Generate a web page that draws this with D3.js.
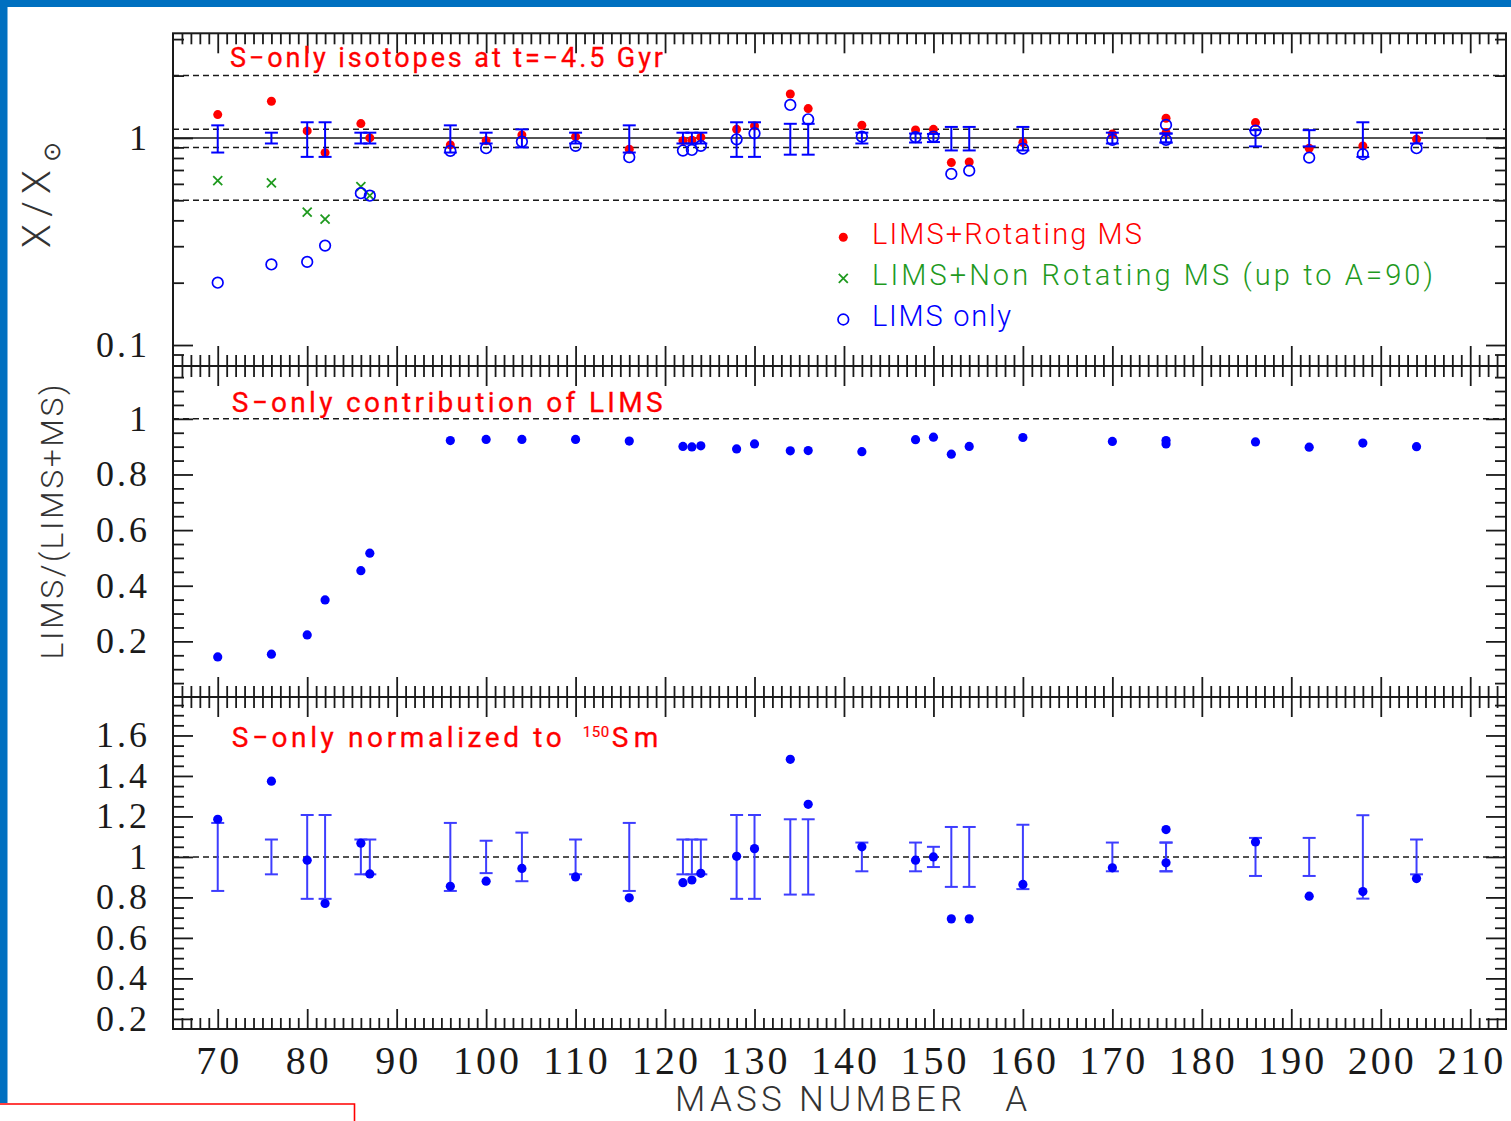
<!DOCTYPE html>
<html>
<head>
<meta charset="utf-8">
<script src="https://cdn.jsdelivr.net/npm/d3@7"></script>
<style>
  html, body { margin: 0; padding: 0; background: #fff; }
  svg { display: block; }
</style>
</head>
<body>
<svg id="chart" width="1511" height="1121"></svg>
<script>
// s-only isotopes (mass number A)
const massNumbers = [70, 76, 80, 82, 86, 87, 96, 100, 104, 110, 116, 122, 123, 124, 128, 130,
  134, 136, 142, 148, 150, 152, 154, 160, 170, 176, 176, 186, 192, 198, 204];

// X/Xsun at t = -4.5 Gyr, LIMS + rotating massive stars
const rotatingMS = [1.296, 1.504, 1.081, 0.849, 1.173, 1.0, 0.925, 0.97, 1.034, 1.015, 0.882,
  0.97, 0.975, 1.008, 1.10, 1.143, 1.63, 1.386, 1.151, 1.093, 1.10, 0.76, 0.765, 0.95, 1.045,
  1.245, 1.061, 1.186, 0.892, 0.915, 0.985];

// X/Xsun, LIMS only
const limsOnly = [0.2, 0.245, 0.252, 0.302, 0.541, 0.526, 0.866, 0.892, 0.96, 0.915, 0.807,
  0.869, 0.875, 0.915, 0.985, 1.053, 1.443, 1.23, 1.015, 1.008, 1.015, 0.67, 0.695, 0.888, 0.978,
  1.155, 0.978, 1.085, 0.803, 0.834, 0.892];

// X/Xsun, LIMS + non rotating massive stars (up to A = 90)
const nonRotMass = [70, 76, 80, 82, 86, 87];
const nonRotatingMS = [0.622, 0.606, 0.438, 0.405, 0.582, 0.526];

// relative solar abundance uncertainty (top panel)
const solarErr = [0.15, 0.06, 0.19, 0.19, 0.06, 0.06, 0.15, 0.06, 0.10, 0.06, 0.15, 0.06, 0.06,
  0.06, 0.19, 0.19, 0.17, 0.17, 0.06, 0.05, 0.045, 0.13, 0.13, 0.13, 0.06, 0.05, 0.05, 0.09,
  0.09, 0.19, 0.06];

// LIMS / (LIMS + MS) contribution
const limsFraction = [0.144, 0.154, 0.223, 0.349, 0.454, 0.517, 0.922, 0.926, 0.926, 0.926,
  0.92, 0.901, 0.899, 0.903, 0.892, 0.910, 0.885, 0.886, 0.882, 0.925, 0.934, 0.873, 0.901,
  0.933, 0.919, 0.922, 0.910, 0.917, 0.898, 0.913, 0.900];

// abundances normalized to 150Sm
const normalizedSm = [1.186, 1.374, 0.984, 0.770, 1.068, 0.916, 0.855, 0.880, 0.943, 0.901,
  0.798, 0.873, 0.886, 0.919, 1.003, 1.041, 1.482, 1.260, 1.05, 0.984, 1.0, 0.694, 0.694, 0.864,
  0.946, 1.135, 0.971, 1.074, 0.806, 0.829, 0.893];

// uncertainty of the normalized abundances (bottom panel)
const normErr = [0.168, 0.086, 0.207, 0.207, 0.086, 0.086, 0.168, 0.08, 0.12, 0.086, 0.168,
  0.086, 0.086, 0.086, 0.207, 0.207, 0.186, 0.186, 0.071, 0.071, 0.05, 0.148, 0.148, 0.159,
  0.071, 0.071, 0.071, 0.094, 0.094, 0.206, 0.086];

// tick values
const xTickLabels = [70, 80, 90, 100, 110, 120, 130, 140, 150, 160, 170, 180, 190, 200, 210];
const topTickLabels = [0.1, 1];
const midTickLabels = [0.2, 0.4, 0.6, 0.8, 1];
const botTickLabels = [0.2, 0.4, 0.6, 0.8, 1, 1.2, 1.4, 1.6];
const topGuides = [2, 1.1, 0.9, 0.5];

const svg = d3.select("#chart");
const RED = "#ff0000", BLUE = "#0000ff", GREEN = "#1f9a1f", INK = "#1a1a1a";
const serif = "'Liberation Serif', 'DejaVu Serif', serif";
const sans = "Roboto, 'Liberation Sans', 'DejaVu Sans', sans-serif";

// page decoration
svg.append("rect").attr("x", 0).attr("y", 0).attr("width", 1511).attr("height", 7).attr("fill", "#0070c0");
svg.append("rect").attr("x", 0).attr("y", 0).attr("width", 7.5).attr("height", 1103).attr("fill", "#0070c0");
svg.append("path").attr("d", "M0,1104 H354.5 V1121").attr("fill", "none").attr("stroke", "#ff0000").attr("stroke-width", 1.6);

const left = 173, right = 1506;
const x = d3.scaleLinear().domain([65, 214]).range([left, right]);

const p1 = { top: 33.3, bottom: 366 };
const p2 = { top: 366, bottom: 697 };
const p3 = { top: 697, bottom: 1029 };

const y1 = d3.scaleLog().domain([0.0792, 3.2]).range([p1.bottom, p1.top]);
const y2 = d3.scaleLinear().domain([0, 1.19]).range([p2.bottom, p2.top]);
const y3 = d3.scaleLinear().domain([0.15, 1.79]).range([p3.bottom, p3.top]);

const majorX = d3.range(70, 211, 10);
const minorX = d3.range(66, 214).filter(v => v % 10 !== 0);

function styleAxis(g) {
  g.select(".domain").remove();
  g.selectAll("line").attr("stroke", INK).attr("stroke-width", 1.8);
  g.selectAll("text").remove();
}

function drawFrame(p, yScale, majorY, minorY) {
  const g = svg.append("g");
  const add = (axis, tx, ty) => g.append("g").attr("transform", `translate(${tx},${ty})`).call(axis).call(styleAxis);
  // x ticks on top and bottom edges, pointing inward
  add(d3.axisBottom(x).tickValues(majorX).tickSize(20), 0, p.top);
  add(d3.axisBottom(x).tickValues(minorX).tickSize(11), 0, p.top);
  add(d3.axisTop(x).tickValues(majorX).tickSize(20), 0, p.bottom);
  add(d3.axisTop(x).tickValues(minorX).tickSize(11), 0, p.bottom);
  // y ticks on left and right edges, pointing inward
  add(d3.axisRight(yScale).tickValues(majorY).tickSize(20), left, 0);
  add(d3.axisRight(yScale).tickValues(minorY).tickSize(11), left, 0);
  add(d3.axisLeft(yScale).tickValues(majorY).tickSize(20), right, 0);
  add(d3.axisLeft(yScale).tickValues(minorY).tickSize(11), right, 0);
  g.append("rect").attr("x", left).attr("y", p.top).attr("width", right - left)
    .attr("height", p.bottom - p.top).attr("fill", "none").attr("stroke", INK).attr("stroke-width", 2);
}

function yLabels(values, yScale, fmt) {
  svg.append("g").selectAll("text").data(values).join("text")
    .attr("x", 150).attr("y", d => yScale(d) + 12)
    .attr("text-anchor", "end").attr("font-family", serif).attr("font-size", 36)
    .attr("letter-spacing", 3).attr("fill", INK).text(fmt);
}

function guide(yScale, v, dashed) {
  svg.append("line").attr("x1", left).attr("x2", right).attr("y1", yScale(v)).attr("y2", yScale(v))
    .attr("stroke", INK).attr("stroke-width", 1.5).attr("stroke-dasharray", dashed ? "6,4" : null);
}

function errorBars(values, err, yScale, color, width) {
  const g = svg.append("g").attr("stroke", color).attr("stroke-width", width).attr("fill", "none");
  values.forEach((a, i) => {
    const cx = x(a), hi = yScale(1 + err[i]), lo = yScale(1 - err[i]);
    g.append("line").attr("x1", cx).attr("x2", cx).attr("y1", hi).attr("y2", lo);
    g.append("line").attr("x1", cx - 6.5).attr("x2", cx + 6.5).attr("y1", hi).attr("y2", hi);
    g.append("line").attr("x1", cx - 6.5).attr("x2", cx + 6.5).attr("y1", lo).attr("y2", lo);
  });
}

function crossPath(cx, cy, s) {
  return `M${cx - s},${cy - s}L${cx + s},${cy + s}M${cx - s},${cy + s}L${cx + s},${cy - s}`;
}

// ---------- top panel: X/Xsun ----------
const minorLog = [0.09, 0.2, 0.3, 0.4, 0.5, 0.6, 0.7, 0.8, 0.9, 2, 3];
topGuides.forEach(v => guide(y1, v, true));
guide(y1, 1, false);

svg.append("g").selectAll("circle").data(massNumbers).join("circle")
  .attr("cx", d => x(d)).attr("cy", (d, i) => y1(rotatingMS[i])).attr("r", 4.5).attr("fill", RED);

svg.append("g").selectAll("path").data(nonRotMass).join("path")
  .attr("d", (d, i) => crossPath(x(d), y1(nonRotatingMS[i]), 4.5))
  .attr("stroke", GREEN).attr("stroke-width", 1.8).attr("fill", "none");

svg.append("g").selectAll("circle").data(massNumbers).join("circle")
  .attr("cx", d => x(d)).attr("cy", (d, i) => y1(limsOnly[i])).attr("r", 5.3)
  .attr("fill", "none").attr("stroke", BLUE).attr("stroke-width", 1.7);

errorBars(massNumbers, solarErr, y1, BLUE, 2);
drawFrame(p1, y1, topTickLabels, minorLog);
yLabels(topTickLabels, y1, d => d === 1 ? "1" : "0.1");

svg.append("text").attr("x", 230).attr("y", 66.7).attr("font-family", sans).attr("font-size", 27)
  .attr("fill", RED).attr("stroke", RED).attr("stroke-width", 0.3)
  .attr("textLength", 433).attr("lengthAdjust", "spacing").text("S−only isotopes at t=−4.5 Gyr");

// legend
const legend = svg.append("g").attr("font-family", sans).attr("font-size", 29).attr("font-weight", 300);
legend.append("circle").attr("cx", 843.3).attr("cy", 237.3).attr("r", 4.5).attr("fill", RED);
legend.append("path").attr("d", crossPath(843.3, 278.3, 4.5)).attr("stroke", GREEN).attr("stroke-width", 1.8);
legend.append("circle").attr("cx", 843.3).attr("cy", 319.5).attr("r", 5.3).attr("fill", "none")
  .attr("stroke", BLUE).attr("stroke-width", 1.7);
legend.append("text").attr("x", 872).attr("y", 244).attr("fill", RED)
  .attr("textLength", 270).attr("lengthAdjust", "spacing").text("LIMS+Rotating MS");
legend.append("text").attr("x", 872).attr("y", 285).attr("fill", GREEN)
  .attr("textLength", 561).attr("lengthAdjust", "spacing").text("LIMS+Non Rotating MS (up to A=90)");
legend.append("text").attr("x", 872).attr("y", 326).attr("fill", BLUE)
  .attr("textLength", 139).attr("lengthAdjust", "spacing").text("LIMS only");

// ---------- middle panel: LIMS/(LIMS+MS) ----------
guide(y2, 1, true);
svg.append("g").selectAll("circle").data(massNumbers).join("circle")
  .attr("cx", d => x(d)).attr("cy", (d, i) => y2(limsFraction[i])).attr("r", 4.6).attr("fill", BLUE);
drawFrame(p2, y2, d3.range(0.2, 1.01, 0.2).map(v => +v.toFixed(2)),
  d3.range(1, 24).map(k => +(k * 0.05).toFixed(2)).filter(v => Math.abs(v / 0.2 - Math.round(v / 0.2)) > 1e-6));
yLabels(midTickLabels, y2, d => d === 1 ? "1" : d.toFixed(1));
svg.append("text").attr("x", 231.7).attr("y", 411.7).attr("font-family", sans).attr("font-size", 28)
  .attr("fill", RED).attr("stroke", RED).attr("stroke-width", 0.3)
  .attr("textLength", 431).attr("lengthAdjust", "spacing").text("S−only contribution of LIMS");

// ---------- bottom panel: normalized to 150Sm ----------
guide(y3, 1, true);
errorBars(massNumbers, normErr, y3, "#3d3dff", 2);
svg.append("g").selectAll("circle").data(massNumbers).join("circle")
  .attr("cx", d => x(d)).attr("cy", (d, i) => y3(normalizedSm[i])).attr("r", 4.6).attr("fill", BLUE);
drawFrame(p3, y3, botTickLabels,
  d3.range(4, 36).map(k => +(k * 0.05).toFixed(2)).filter(v => Math.abs(v / 0.2 - Math.round(v / 0.2)) > 1e-6));
yLabels(botTickLabels, y3, d => d === 1 ? "1" : d.toFixed(1));

const t3 = svg.append("g").attr("font-family", sans).attr("fill", RED).attr("stroke", RED).attr("stroke-width", 0.3);
t3.append("text").attr("x", 231.7).attr("y", 746.7).attr("font-size", 28)
  .attr("textLength", 330).attr("lengthAdjust", "spacing").text("S−only normalized to");
t3.append("text").attr("x", 582.7).attr("y", 736.7).attr("font-size", 15).attr("stroke-width", 0.2)
  .attr("textLength", 26.6).attr("lengthAdjust", "spacing").text("150");
t3.append("text").attr("x", 611.7).attr("y", 746.7).attr("font-size", 28)
  .attr("textLength", 46.6).attr("lengthAdjust", "spacing").text("Sm");

// ---------- shared x axis labels ----------
svg.append("g").selectAll("text").data(xTickLabels).join("text")
  .attr("x", d => x(d) + 1.5).attr("y", 1074).attr("text-anchor", "middle")
  .attr("font-family", serif).attr("font-size", 40).attr("letter-spacing", 3)
  .attr("fill", INK).text(d => d);

svg.append("text").attr("x", 675).attr("y", 1111).attr("font-family", sans).attr("font-weight", 300)
  .attr("font-size", 35).attr("fill", "#333").attr("textLength", 352).attr("lengthAdjust", "spacing")
  .attr("xml:space", "preserve").style("white-space", "pre").text("MASS NUMBER   A");

// ---------- y axis titles ----------
const yt1 = svg.append("text").attr("transform", "translate(50,248) rotate(-90)")
  .attr("font-family", sans).attr("font-weight", 300).attr("font-size", 39).attr("fill", "#333");
yt1.append("tspan").attr("textLength", 78).attr("lengthAdjust", "spacing").text("X/X");
yt1.append("tspan").attr("dy", 10).attr("dx", 1).attr("font-size", 24)
  .attr("font-family", "'DejaVu Sans', sans-serif").text("⊙");

svg.append("text").attr("transform", "translate(63,522) rotate(-90)").attr("text-anchor", "middle")
  .attr("font-family", sans).attr("font-weight", 300).attr("font-size", 32).attr("fill", "#333")
  .attr("textLength", 275).attr("lengthAdjust", "spacing").text("LIMS/(LIMS+MS)");
</script>
</body>
</html>
